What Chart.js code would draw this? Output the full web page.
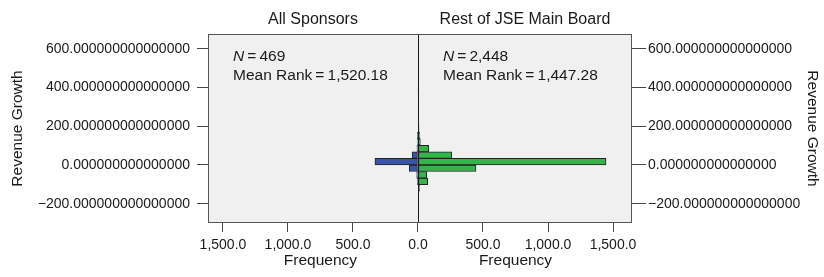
<!DOCTYPE html>
<html><head><meta charset="utf-8">
<script src="https://cdn.jsdelivr.net/npm/chart.js@4/dist/chart.umd.min.js"></script>
<style>html,body{margin:0;padding:0;background:#fff;}#wrap{width:824px;height:277px;position:relative}</style>
</head><body><div id="wrap"><canvas id="c" width="824" height="277"></canvas></div>
<script>
// Histogram bin centres (Revenue Growth), bin width 34
const binCenters   = [-119, -85, -51, -17, 17, 51, 85, 119, 153, 187, 221, 255, 289, 323, 357, 391];
// Frequencies (All Sponsors drawn to the left, Rest of JSE Main Board to the right)
const sponsorsFreq = [0, 2, 10, 67, 331, 45, 8, 4, 2, 0, 0, 0, 0, 0, 0, 0];
const restFreq     = [12, 75, 67, 446, 1446, 260, 82, 18, 12, 8, 6, 2, 2, 5, 4, 1];
const yTickValues  = [-200, 0, 200, 400, 600];
const yTickLabels  = ['\u2212200.000000000000000', '0.000000000000000', '200.000000000000000', '400.000000000000000', '600.000000000000000'];
const xTickValues  = [-1500, -1000, -500, 0, 500, 1000, 1500];
const xTickLabels  = ['1,500.0', '1,000.0', '500.0', '0.0', '500.0', '1,000.0', '1,500.0'];
const panelTitles  = ['All Sponsors', 'Rest of JSE Main Board'];
const groupN       = ['469', '2,448'];
const meanRanks    = ['1,520.18', '1,447.28'];
const axisTitleY   = 'Revenue Growth';
const axisTitleX   = 'Frequency';

const FONT = "'Liberation Sans', Arial, Helvetica, sans-serif";
const TXT = '#1a1a1a';

const toPts = (arr, sign) => binCenters.map((c, i) => ({ x: arr[i] ? sign * arr[i] : null, y: c }));

const deco = {
  id: 'deco',
  beforeDraw(chart) {
    const { ctx, chartArea: a } = chart;
    ctx.save();
    ctx.fillStyle = '#f0f0f0';
    ctx.fillRect(a.left, a.top, a.right - a.left, a.bottom - a.top);
    ctx.restore();
  },
  afterDatasetsDraw(chart) {
    const { ctx, chartArea: a, scales } = chart;
    const xz = Math.round(scales.x.getPixelForValue(0)) + 0.5;
    ctx.save();
    ctx.strokeStyle = '#1a1a1a';
    ctx.lineWidth = 1;
    ctx.beginPath(); ctx.moveTo(xz, a.top); ctx.lineTo(xz, a.bottom); ctx.stroke();
    ctx.strokeStyle = '#555';
    ctx.strokeRect(a.left + 0.5, a.top + 0.5, a.right - a.left - 1, a.bottom - a.top - 1);
    ctx.restore();
  },
  afterDraw(chart) {
    const { ctx, chartArea: a, scales } = chart;
    const x = scales.x;
    const xz = x.getPixelForValue(0);
    ctx.save();
    ctx.fillStyle = TXT;
    ctx.textBaseline = 'middle';
    // panel titles
    ctx.font = '16px ' + FONT;
    ctx.textAlign = 'center';
    ctx.fillText(panelTitles[0], (a.left + xz) / 2, a.top - 14);
    ctx.fillText(panelTitles[1], (xz + a.right) / 2, a.top - 14);
    // annotations
    const annX = [a.left + 25, xz + 25];
    ctx.textAlign = 'left';
    for (let k = 0; k < 2; k++) {
      ctx.font = 'italic 15.5px ' + FONT;
      ctx.fillText('N', annX[k], a.top + 23);
      const w = ctx.measureText('N').width;
      ctx.font = '15.5px ' + FONT;
      ctx.fillText('\u2009=\u2009' + groupN[k], annX[k] + w, a.top + 23);
      ctx.fillText('Mean Rank\u2009=\u2009' + meanRanks[k], annX[k], a.top + 42);
    }
    // x axis titles
    ctx.font = '15.5px ' + FONT;
    ctx.textAlign = 'center';
    ctx.fillText(axisTitleX, (x.getPixelForValue(-1500) + xz) / 2, 261);
    ctx.fillText(axisTitleX, (x.getPixelForValue(1500) + xz) / 2, 261);
    // y axis titles
    const cy = (a.top + a.bottom) / 2;
    ctx.save(); ctx.translate(18, cy); ctx.rotate(-Math.PI / 2); ctx.fillText(axisTitleY, 0, 0); ctx.restore();
    ctx.save(); ctx.translate(812, cy); ctx.rotate(Math.PI / 2); ctx.fillText(axisTitleY, 0, 0); ctx.restore();
    ctx.restore();
  }
};

const yScaleBase = (pos, tl, width) => ({
  type: 'linear', position: pos, min: -300, max: 677, offset: false,
  afterBuildTicks: s => { s.ticks = yTickValues.map(v => ({ value: v })); },
  afterFit: s => { s.width = width; },
  grid: { display: true, offset: false, drawOnChartArea: false, drawTicks: true, tickLength: tl, color: '#444' },
  border: { display: false },
  ticks: { callback: (v, i) => yTickLabels[i], color: TXT, font: { family: FONT, size: 14 }, padding: pos === 'left' ? 7 : 2 }
});

new Chart(document.getElementById('c'), {
  type: 'bar',
  data: {
    datasets: [
      { label: panelTitles[0], data: toPts(sponsorsFreq, -1), backgroundColor: '#3953a6', borderColor: '#222', borderWidth: 1, borderSkipped: false, grouped: false, barPercentage: 1, categoryPercentage: 1 },
      { label: panelTitles[1], data: toPts(restFreq, 1), backgroundColor: '#37b34a', borderColor: '#222', borderWidth: 1, borderSkipped: false, grouped: false, barPercentage: 1, categoryPercentage: 1 }
    ]
  },
  options: {
    indexAxis: 'y',
    responsive: false,
    animation: false,
    devicePixelRatio: 1,
    layout: { padding: { top: 34, left: 0, right: 0, bottom: 0 } },
    plugins: { legend: { display: false }, tooltip: { enabled: false }, title: { display: false } },
    scales: {
      x: {
        type: 'linear', min: -1615, max: 1646, offset: false,
        afterBuildTicks: s => { s.ticks = xTickValues.map(v => ({ value: v })); },
        afterFit: s => { s.height = 54; },
        grid: { display: true, offset: false, drawOnChartArea: false, drawTicks: true, tickLength: 9, color: '#444' },
        border: { display: false },
        ticks: { callback: (v, i) => xTickLabels[i], color: TXT, font: { family: FONT, size: 14 }, padding: 5, maxRotation: 0, autoSkip: false }
      },
      y: yScaleBase('left', 11, 208),
      y2: yScaleBase('right', 14, 192)
    }
  },
  plugins: [deco]
});
</script>
</body></html>
